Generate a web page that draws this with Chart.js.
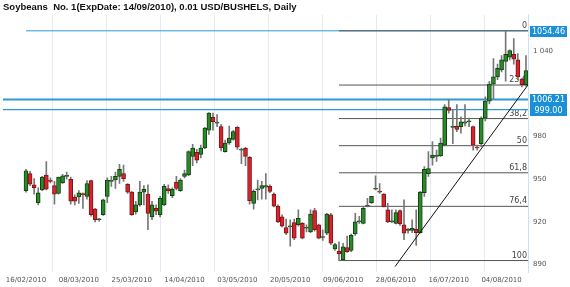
<!DOCTYPE html>
<html>
<head>
<meta charset="utf-8">
<script src="https://cdn.jsdelivr.net/npm/chart.js@4/dist/chart.umd.min.js"></script>
<style>
  html, body { margin: 0; padding: 0; background: #fff; }
  #wrap { width: 570px; height: 287px; }
</style>
</head>
<body>
<div id="wrap"><canvas id="soyChart" width="570" height="287"></canvas></div>
<script>
// date labels, one every 13 sessions
const tickLabels = ['16/02/2010', '08/03/2010', '25/03/2010', '14/04/2010', '03/05/2010',
    '20/05/2010', '09/06/2010', '28/06/2010', '16/07/2010', '04/08/2010'];
const labelEvery = 13;

// daily OHLC
const opens = [942, 954, 946, 933.5, 942.5, 953, 949.5, 945.5, 940, 947.5,
    952, 950, 937.5, 937.5, 940, 938, 949, 929, 921.5, 925,
    938, 948.5, 949.5, 952, 954, 946.5, 941, 927, 932, 941,
    939.5, 923.5, 929.5, 925, 932, 943.5, 938.5, 948, 942, 952,
    953, 966, 969, 967.5, 972, 984.5, 993.5, 989.5, 987, 969.5,
    975.5, 978, 986.5, 970.5, 972, 965.5, 933, 942.5, 943.5, 944.5,
    945, 939.5, 931, 923.5, 916, 916.5, 919.5, 918, 919, 915.5,
    913, 928, 918, 909, 912, 925, 901, 899.5, 893.5, 902,
    900, 911.5, 920, 919, 931, 933.5, 943, 941.5, 939.5, 928.5,
    920, 919, 928, 918, 914, 914, 915, 912.5, 940.5, 954,
    965, 966, 966.5, 974, 1000.5, 986.5, 987.5, 987, 989.5, 990.5,
    987, 972.5, 975, 993, 1005, 1017, 1022, 1027, 1033, 1036,
    1038, 1034, 1020.5, 1016.5];
const highs = [957, 955.5, 950.5, 944, 952, 962.5, 951, 948.5, 951.5, 953.5,
    955, 951.5, 939, 942, 940.5, 949, 949.5, 929.5, 922.5, 936,
    951, 952, 955, 960.5, 960, 947, 941.5, 934.5, 948.5, 945.5,
    946, 934.5, 932, 938, 946.5, 946, 944, 952, 950.5, 956.5,
    970, 974.5, 971, 974, 986.5, 997, 996.5, 995.5, 988.5, 977.5,
    987.5, 984.5, 987, 972, 972.5, 966, 942.5, 949.5, 948.5, 954,
    946, 940.5, 932, 925, 922, 921.5, 922, 928.5, 919.5, 918,
    928.5, 929.5, 918.5, 914.5, 926, 926, 905, 906, 905, 910,
    911.5, 926, 924, 930.5, 936.5, 938, 952.5, 947, 940, 933,
    928.5, 928.5, 928.5, 935.5, 915.5, 921.5, 928.5, 941.5, 959, 969.5,
    976.5, 970.5, 979, 1002.5, 1006, 999, 1002.5, 994, 1002.5, 993,
    987.5, 974, 994, 1008, 1019, 1035, 1031, 1037, 1054.46, 1041,
    1049, 1038.5, 1021, 1037];
const lows = [941, 945.5, 939.5, 932, 942, 942.5, 947.5, 932.5, 939.5, 947,
    950, 932.5, 932, 933, 929.5, 936, 924, 920, 920.5, 924.5,
    933.5, 945, 943.5, 947, 948.5, 940, 924.5, 925.5, 931, 932,
    914.5, 921.5, 925, 923.5, 931.5, 940, 937, 942.5, 941.5, 951,
    952.5, 959.5, 961.5, 965, 971.5, 981.5, 984.5, 987, 970, 969,
    974.5, 977.5, 971, 961, 959.5, 932.5, 929, 935.5, 936, 936,
    940.5, 930.5, 919.5, 916.5, 911, 903, 907.5, 917, 908, 913,
    912.5, 913.5, 908, 907, 911, 904, 900, 892.8, 893.2, 898.5,
    899, 910.5, 919, 918.5, 930.5, 933, 942.5, 940, 930.5, 919.5,
    919.5, 918.5, 917.5, 907.5, 912, 912.5, 903.5, 912, 938, 952,
    960, 962.5, 966, 973.5, 996.5, 975, 983.5, 982.5, 987.5, 987,
    970.5, 970.5, 973, 991, 1003, 1006.5, 1020, 1025.5, 1019, 1034,
    1031, 1020, 1015, 1015.5];
const closes = [956, 946.5, 944, 940.5, 951.5, 943, 948.5, 939.5, 951.5, 952.5,
    952.5, 934.5, 934.5, 940.5, 939, 947, 925, 921.5, 921.5, 935.5,
    949.5, 948.5, 952, 957, 950.5, 941, 925, 932, 941, 943,
    926, 932, 927.5, 936.5, 945, 942, 943, 943.5, 949.5, 954,
    969.5, 972, 963.5, 972, 986, 996.5, 990.5, 989.5, 972, 975.5,
    979, 983.5, 972.5, 970.5, 966, 935, 941.5, 942.5, 945.5, 945.5,
    941.5, 931, 920, 917, 912, 916.5, 908.5, 922.5, 908.5, 915.5,
    925.5, 914.5, 908.5, 909, 925.5, 905, 904, 897.5, 902.5, 899,
    910.5, 920, 920, 929.5, 931, 938, 943, 941, 930.5, 920,
    920, 926.5, 918.5, 912, 915, 915.5, 912.5, 941, 957, 957.5,
    967, 967, 975.5, 1001, 998.5, 986.5, 985, 990.5, 990.5, 990.5,
    974, 972, 993, 1005, 1017, 1022, 1028, 1034, 1038, 1040.5,
    1034.5, 1022, 1016.5, 1026.5];

// horizontal price lines with their boxed labels
const priceLines = [1054.46, 1006.21, 999.00];
const priceLineWidths = [1, 2, 1.2];

// fibonacci retracement from the June low to the August high
const fibHigh = 1054.46;
const fibLow = 892.8;
const fibLevels = [0, 23.6, 38.2, 50, 61.8, 76.4, 100];
const fibLabels = ['0', '23,6', '38,2', '50', '61,8', '76,4', '100'];

// trend line through the July lows: [bar index, price]
const trendFrom = [90.8, 888.6];
const trendTo = [123.5, 1016.4];

const yTicks = [890, 920, 950, 980, 1040];

const xMin = -5.66, xMax = 123.5;
const gridStep = 13.28;
const fibStart = lows.indexOf(Math.min(...lows));

const isUp = opens.map((o, i) => closes[i] >= o);

const hLine = (y, x0, color, width, order) => ({
    type: 'line',
    data: [{ x: x0, y: y }, { x: xMax, y: y }],
    borderColor: color,
    borderWidth: width,
    pointRadius: 0,
    order: order
});

const datasets = [
    {
        type: 'bar',
        data: opens.map((o, i) => ({ x: i, y: [o, closes[i]] })),
        backgroundColor: isUp.map(u => u ? '#2a8a2a' : '#d8232c'),
        borderColor: isUp.map(u => u ? '#123f12' : '#7c1519'),
        borderWidth: 1,
        borderSkipped: false,
        barThickness: 4,
        minBarLength: 1,
        grouped: false,
        order: 1
    },
    {
        type: 'bar',
        data: lows.map((l, i) => ({ x: i, y: [l, highs[i]] })),
        backgroundColor: '#777',
        borderWidth: 0,
        barThickness: 1,
        grouped: false,
        order: 2
    },
    {
        type: 'line',
        data: [{ x: trendFrom[0], y: trendFrom[1] }, { x: trendTo[0], y: trendTo[1] }],
        borderColor: '#111',
        borderWidth: 1,
        pointRadius: 0,
        order: 0
    }
];
fibLevels.forEach(l => datasets.push(hLine(fibHigh - (fibHigh - fibLow) * l / 100, fibStart, '#555', 1, 3)));
priceLines.forEach((p, i) => datasets.push(hLine(p, i === 0 ? 0 : xMin, '#2f98da', priceLineWidths[i], 4)));

/* labels drawn next to the fib lines and the blue price boxes */
const overlay = {
    id: 'overlay',
    beforeDatasetsDraw(chart) {
        const { ctx, scales: { y }, chartArea } = chart;
        ctx.save();
        ctx.font = '8px "DejaVu Sans"';
        ctx.fillStyle = '#444';
        ctx.textAlign = 'right';
        ctx.textBaseline = 'bottom';
        fibLevels.forEach((l, i) => {
            const py = y.getPixelForValue(fibHigh - (fibHigh - fibLow) * l / 100);
            ctx.fillText(fibLabels[i], chartArea.right - 1, py - 1);
        });
        ctx.restore();
    },
    afterDraw(chart) {
        const { ctx, scales: { y }, chartArea } = chart;
        ctx.save();
        ctx.font = '8px "DejaVu Sans"';
        ctx.textAlign = 'center';
        ctx.textBaseline = 'middle';
        priceLines.forEach(p => {
            const py = Math.round(y.getPixelForValue(p));
            ctx.fillStyle = '#1b8fd8';
            ctx.fillRect(chartArea.right + 2, py - 5, 37, 11);
            ctx.fillStyle = '#fff';
            ctx.fillText(p.toFixed(2), chartArea.right + 20.5, py + 0.5);
        });
        ctx.restore();
    }
};

new Chart(document.getElementById('soyChart'), {
    type: 'bar',
    data: { datasets: datasets },
    plugins: [overlay],
    options: {
        responsive: false,
        animation: false,
        layout: { padding: { left: 3, right: 0, top: 0, bottom: 3.6 } },
        plugins: {
            legend: { display: false },
            tooltip: { enabled: false },
            title: {
                display: true,
                text: 'Soybeans  No. 1(ExpDate: 14/09/2010), 0.01 USD/BUSHELS, Daily',
                align: 'start',
                color: '#111',
                font: { family: 'Liberation Sans', size: 9.5, weight: 'bold' },
                padding: { top: 2, bottom: 1.4 }
            }
        },
        scales: {
            x: {
                type: 'linear',
                min: xMin,
                max: xMax,
                offset: false,
                afterBuildTicks: s => { s.ticks = tickLabels.map((_, i) => ({ value: i * labelEvery })); },
                afterFit: s => { s.height = 11.4; },
                ticks: {
                    autoSkip: false,
                    maxRotation: 0,
                    padding: 4,
                    color: '#555',
                    font: { family: 'DejaVu Sans', size: 7 },
                    callback: (v, i) => tickLabels[i]
                },
                grid: { display: false, drawTicks: false },
                border: { display: false }
            },
            xGrid: {
                type: 'linear',
                position: 'bottom',
                min: xMin,
                max: xMax,
                offset: false,
                afterBuildTicks: s => { s.ticks = tickLabels.map((_, i) => ({ value: i * gridStep })); },
                afterFit: s => { s.height = 0; },
                ticks: { display: false },
                grid: { color: '#e2ecf5', drawTicks: false },
                border: { display: false }
            },
            y: {
                position: 'right',
                min: 884.74,
                max: 1065.73,
                afterBuildTicks: s => { s.ticks = yTicks.map(v => ({ value: v })); },
                afterFit: s => { s.width = 42; },
                ticks: {
                    padding: 5,
                    color: '#555',
                    font: { family: 'DejaVu Sans', size: 7 },
                    callback: v => String(v).replace(/\B(?=(\d{3})+(?!\d))/g, ' ')
                },
                grid: { drawOnChartArea: false, drawTicks: false },
                border: { display: true, color: '#d3e0ec' }
            }
        }
    }
});
</script>
</body>
</html>
